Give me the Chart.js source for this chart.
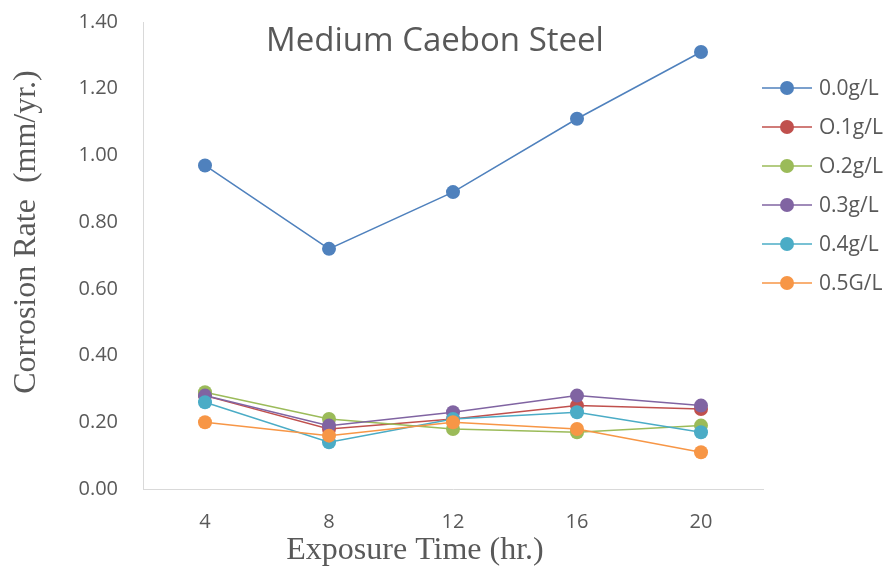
<!DOCTYPE html>
<html>
<head>
<meta charset="utf-8">
<script src="https://cdn.jsdelivr.net/npm/chart.js@4.4.1/dist/chart.umd.min.js"></script>
<style>
  html, body { margin: 0; padding: 0; background: #ffffff; }
  #wrap { width: 885px; height: 570px; }
</style>
</head>
<body>
<div id="wrap"><canvas id="c" width="885" height="570"></canvas></div>
<script>
// Exposure times (hr.)
const exposureTimes = ['4', '8', '12', '16', '20'];

// Corrosion rate (mm/yr.) per inhibitor concentration
const rate00 = [0.97, 0.72, 0.89, 1.11, 1.31];
const rate01 = [0.28, 0.18, 0.21, 0.25, 0.24];
const rate02 = [0.29, 0.21, 0.18, 0.17, 0.19];
const rate03 = [0.28, 0.19, 0.23, 0.28, 0.25];
const rate04 = [0.26, 0.14, 0.21, 0.23, 0.17];
const rate05 = [0.20, 0.16, 0.20, 0.18, 0.11];

const seriesNames = ['0.0g/L', 'O.1g/L', 'O.2g/L', '0.3g/L', '0.4g/L', '0.5G/L'];
const seriesValues = [rate00, rate01, rate02, rate03, rate04, rate05];
const seriesColors = ['#4F81BD', '#C0504D', '#9BBB59', '#8064A2', '#4BACC6', '#F79646'];

const yTicks = [0, 0.2, 0.4, 0.6, 0.8, 1.0, 1.2, 1.4];

const chartTitle = 'Medium Caebon Steel';
const xTitle = 'Exposure Time (hr.)';
const yTitle = 'Corrosion Rate  (mm/yr.)';

const textColor = '#595959';
const axisColor = '#D9D9D9';
const sansFont = '"Open Sans", "Noto Sans", sans-serif';
const serifFont = '"Liberation Serif", "DejaVu Serif", serif';

const datasets = seriesValues.map((vals, i) => ({
  label: seriesNames[i],
  data: vals,
  borderColor: seriesColors[i],
  backgroundColor: seriesColors[i],
  borderWidth: 1.5,
  pointRadius: 7,
  pointHoverRadius: 7,
  pointBorderWidth: 0,
  pointBackgroundColor: seriesColors[i],
  tension: 0,
  // later series are painted on top of earlier ones
  order: seriesValues.length - 1 - i
}));

// Titles and the line-and-marker legend
const decorations = {
  id: 'decorations',
  afterDraw(chart) {
    const ctx = chart.ctx;
    const area = chart.chartArea;
    ctx.save();
    ctx.fillStyle = textColor;

    // chart title, inside the plot area
    ctx.font = '33px ' + sansFont;
    ctx.textAlign = 'center';
    ctx.textBaseline = 'middle';
    ctx.fillText(chartTitle, 435, 42);

    // axis titles
    ctx.font = '32px ' + serifFont;
    ctx.fillText(xTitle, 415, 551);
    ctx.save();
    ctx.translate(27, 232);
    ctx.rotate(-Math.PI / 2);
    ctx.fillText(yTitle, 0, 0);
    ctx.restore();

    // legend
    const lx = area.right - 1;
    ctx.font = '21px ' + sansFont;
    ctx.textAlign = 'left';
    chart.data.datasets.forEach((ds, i) => {
      const y = 88 + 39 * i;
      ctx.strokeStyle = ds.borderColor;
      ctx.lineWidth = 1.5;
      ctx.beginPath();
      ctx.moveTo(lx, y);
      ctx.lineTo(lx + 50, y);
      ctx.stroke();
      ctx.fillStyle = ds.borderColor;
      ctx.beginPath();
      ctx.arc(lx + 25, y, 7, 0, Math.PI * 2);
      ctx.fill();
      ctx.fillStyle = textColor;
      ctx.fillText(ds.label, lx + 57, y + 1);
    });
    ctx.restore();
  }
};

new Chart(document.getElementById('c'), {
  type: 'line',
  data: { labels: exposureTimes, datasets },
  plugins: [decorations],
  options: {
    responsive: false,
    animation: false,
    layout: { padding: { top: 22, right: 122, left: 0, bottom: 0 } },
    plugins: {
      legend: { display: false },
      title: { display: false },
      tooltip: { enabled: false }
    },
    scales: {
      x: {
        type: 'category',
        offset: true,
        grid: { display: false, drawTicks: false },
        border: { display: true, color: axisColor, width: 1 },
        ticks: { color: textColor, font: { family: sansFont, size: 20 }, padding: 21 },
        afterFit(scale) {
          scale.height = 81;
          scale.paddingLeft = 0;
          scale.paddingRight = 0;
        }
      },
      y: {
        min: 0,
        max: 1.4,
        afterBuildTicks(scale) { scale.ticks = yTicks.map(v => ({ value: v })); },
        grid: { display: false, drawTicks: false },
        border: { display: true, color: axisColor, width: 1 },
        ticks: {
          color: textColor,
          font: { family: sansFont, size: 20 },
          padding: 25,
          callback: v => Number(v).toFixed(2)
        },
        afterFit(scale) {
          scale.width = 143;
          scale.paddingTop = 0;
          scale.paddingBottom = 0;
        }
      }
    }
  }
});
</script>
</body>
</html>
